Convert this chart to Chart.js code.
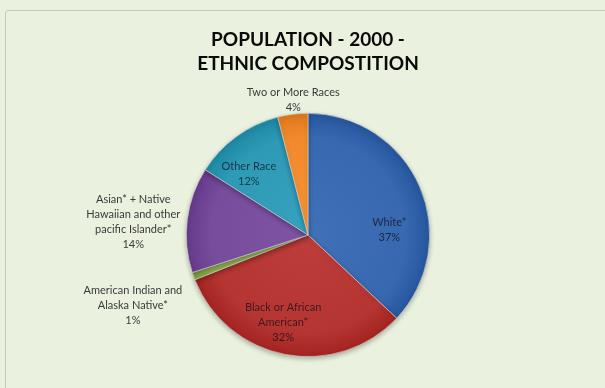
<!DOCTYPE html>
<html>
<head>
<meta charset="utf-8">
<title>Population 2000 - Ethnic Composition</title>
<script src="https://cdn.jsdelivr.net/npm/chart.js"></script>
<style>
  html, body { margin: 0; padding: 0; background: #eaf1de; overflow: hidden; }
  #frame { position: absolute; left: 5px; top: 10px; width: 640px; height: 420px;
           border: 1.5px solid #c3c7be; border-radius: 3px; }
  #wrap { position: absolute; left: 0; top: 0; width: 605px; height: 388px; }
</style>
</head>
<body>
<div id="frame"></div>
<div id="wrap"><canvas id="chart"></canvas></div>
<script>
const categories = [
  'White*',
  'Black or African American*',
  'American Indian and Alaska Native*',
  'Asian* + Native Hawaiian and other pacific Islander*',
  'Other Race',
  'Two or More Races'
];
// how each label is broken into lines, as in the original
const labelLines = [
  ['White*'],
  ['Black or African', 'American*'],
  ['American Indian and', 'Alaska Native*'],
  ['Asian* + Native', 'Hawaiian and other', 'pacific Islander*'],
  ['Other Race'],
  ['Two or More Races']
];
const percents = [37, 32, 1, 14, 12, 4];
const sliceColors = ['#3868b0', '#b53532', '#93b350', '#774c9c', '#2e9ab6', '#f08a2c'];

// label placement: fraction of radius and angle nudge (degrees) from the slice middle
const labelRadius = [0.67, 0.75, 1.55, 1.44, 0.70, 1.12];
const labelNudge = [20, 5, -2, -3, -8, 1];
const labelInside = [true, true, false, false, true, false];

function shade(hex, amt) {
  const n = parseInt(hex.slice(1), 16);
  let r = (n >> 16) + amt, g = ((n >> 8) & 255) + amt, b = (n & 255) + amt;
  r = Math.max(0, Math.min(255, r)); g = Math.max(0, Math.min(255, g)); b = Math.max(0, Math.min(255, b));
  return `rgb(${r},${g},${b})`;
}

const labelPlugin = {
  id: 'sliceLabels',
  afterDatasetsDraw(chart) {
    const ctx = chart.ctx;
    const arcs = chart.getDatasetMeta(0).data;
    ctx.save();
    ctx.font = '11px Lato';
    ctx.textAlign = 'center';
    ctx.textBaseline = 'middle';
    arcs.forEach((arc, i) => {
      const p = arc.getProps(['x', 'y', 'startAngle', 'endAngle', 'outerRadius']);
      const mid = (p.startAngle + p.endAngle) / 2 + labelNudge[i] * Math.PI / 180;
      const cx = p.x + Math.cos(mid) * p.outerRadius * labelRadius[i];
      const cy = p.y + Math.sin(mid) * p.outerRadius * labelRadius[i];
      const lines = labelLines[i].concat([percents[i] + '%']);
      const lh = 15;
      const top = cy - (lines.length - 1) * lh / 2;
      ctx.fillStyle = labelInside[i] ? 'rgba(15,15,25,0.72)' : '#3a3a3a';
      lines.forEach((t, k) => ctx.fillText(t, cx, top + k * lh));
    });
    ctx.restore();
  }
};

const shadowPlugin = {
  id: 'pieShadow',
  beforeDatasetsDraw(chart) {
    const ctx = chart.ctx;
    ctx.save();
    ctx.shadowColor = 'rgba(0,0,0,0.28)';
    ctx.shadowBlur = 5;
    ctx.shadowOffsetY = 2;
  },
  afterDatasetsDraw(chart) {
    chart.ctx.restore();
  }
};

new Chart(document.getElementById('chart'), {
  type: 'pie',
  data: {
    labels: categories,
    datasets: [{
      data: percents,
      backgroundColor: (c) => {
        const area = c.chart.chartArea;
        if (!area) return sliceColors[c.dataIndex];
        const x = (area.left + area.right) / 2, y = (area.top + area.bottom) / 2;
        const r = Math.min(area.width, area.height) / 2;
        const g = c.chart.ctx.createRadialGradient(x, y, 0, x, y, r);
        g.addColorStop(0, shade(sliceColors[c.dataIndex], 8));
        g.addColorStop(0.8, sliceColors[c.dataIndex]);
        g.addColorStop(1, shade(sliceColors[c.dataIndex], -18));
        return g;
      },
      borderColor: 'rgba(210,210,210,0.8)',
      borderWidth: 0.8
    }]
  },
  options: {
    responsive: true,
    maintainAspectRatio: false,
    animation: false,
    layout: { padding: { top: 28, bottom: 31, left: 11, right: 0 } },
    plugins: {
      legend: { display: false },
      tooltip: { enabled: false },
      title: {
        display: true,
        text: ['POPULATION - 2000 -', 'ETHNIC COMPOSTITION'],
        color: '#0a0a0a',
        font: { family: 'Lato', size: 19, weight: 'bold', lineHeight: 1.26 },
        padding: { top: 0, bottom: 37 }
      }
    }
  },
  plugins: [shadowPlugin, labelPlugin]
});
</script>
</body>
</html>
